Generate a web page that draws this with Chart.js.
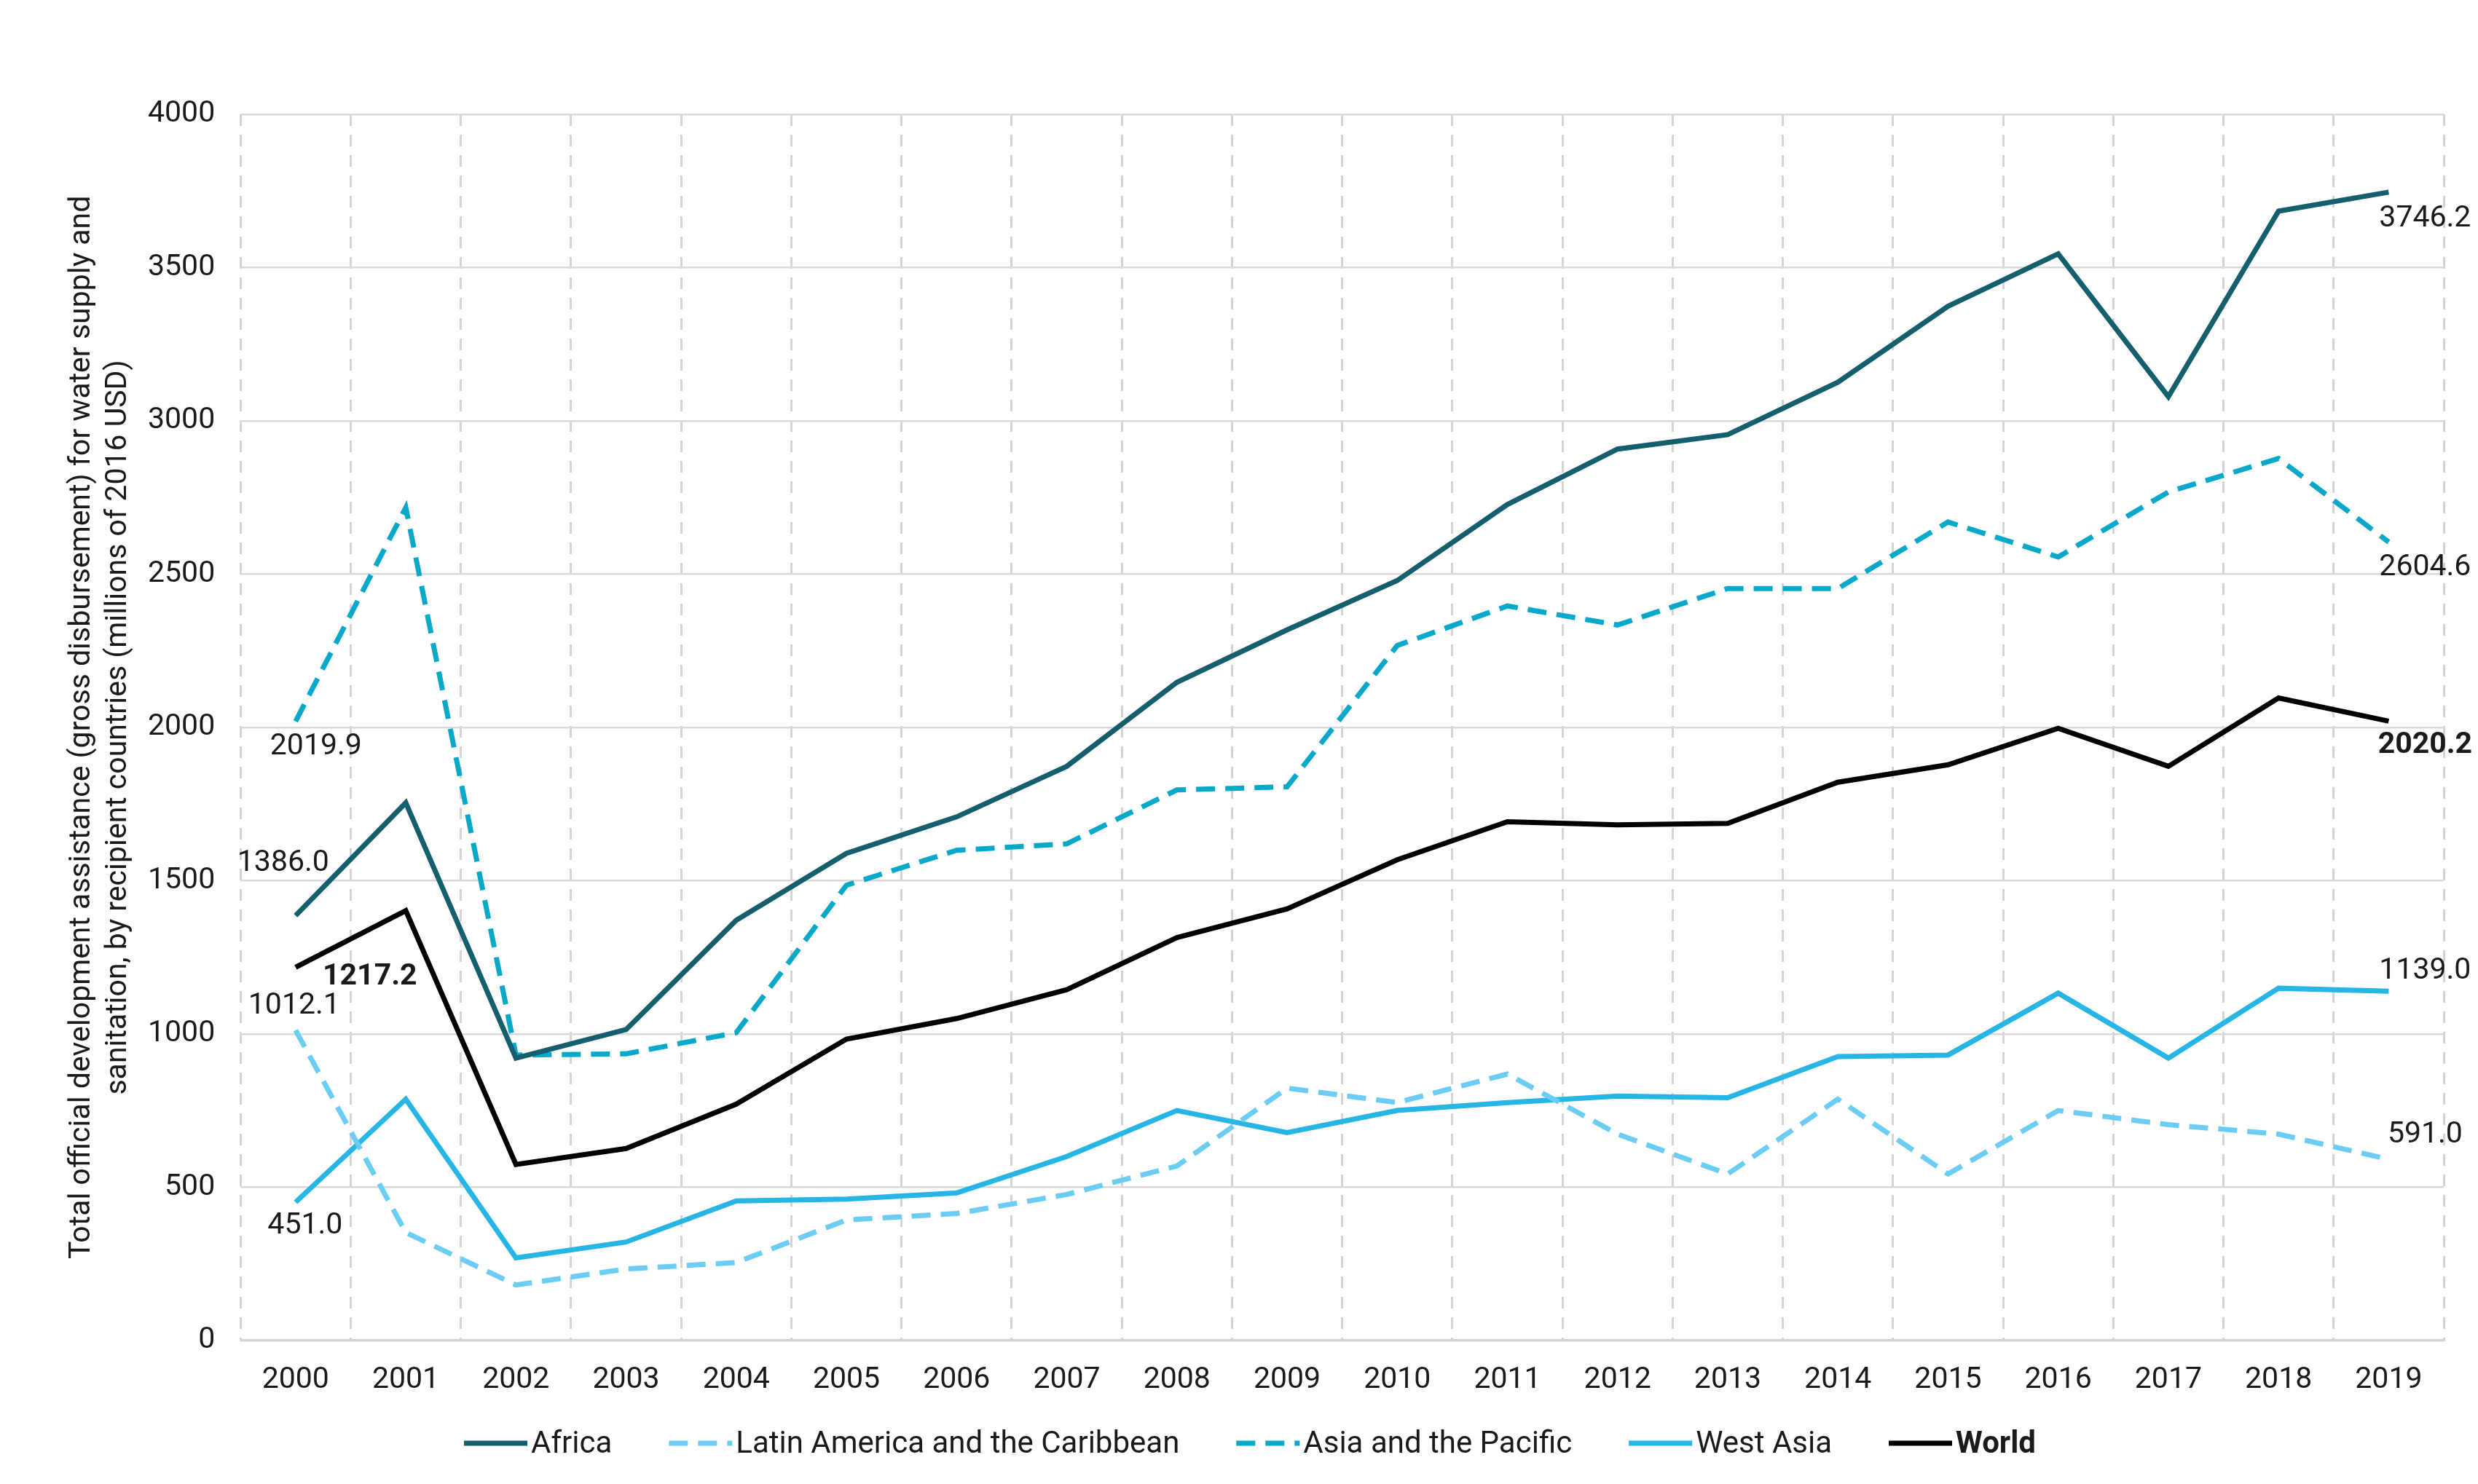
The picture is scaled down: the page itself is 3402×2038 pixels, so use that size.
<!DOCTYPE html>
<html>
<head>
<meta charset="utf-8">
<script src="https://cdn.jsdelivr.net/npm/chart.js@4.4.1/dist/chart.umd.min.js"></script>
<style>
  html, body { margin: 0; padding: 0; background: #fff; }
  #wrap { width: 3402px; height: 2038px; }
</style>
</head>
<body>
<div id="wrap"><canvas id="c"></canvas></div>
<script>
const years = ['2000', '2001', '2002', '2003', '2004', '2005', '2006', '2007', '2008', '2009',
  '2010', '2011', '2012', '2013', '2014', '2015', '2016', '2017', '2018', '2019'];

const africa = [1386.0, 1754, 921, 1014, 1371, 1589, 1708, 1873, 2147, 2318,
  2479, 2727, 2908, 2955, 3126, 3374, 3545, 3079, 3684, 3746.2];
const latinAmerica = [1012.1, 352, 181, 233, 254, 393, 414, 476, 569, 823,
  776, 869, 673, 543, 787, 543, 750, 704, 673, 591.0];
const asiaPacific = [2019.9, 2717, 931, 935, 1004, 1485, 1599, 1620, 1796, 1806,
  2267, 2396, 2334, 2453, 2453, 2670, 2556, 2768, 2877, 2604.6];
const westAsia = [451.0, 787, 269, 321, 455, 461, 481, 600, 750, 678,
  750, 776, 797, 792, 926, 931, 1133, 921, 1149, 1139.0];
const world = [1217.2, 1402, 574, 626, 771, 983, 1050, 1144, 1314, 1408,
  1568, 1692, 1682, 1687, 1821, 1878, 1997, 1873, 2096, 2020.2];

const yTicks = [0, 500, 1000, 1500, 2000, 2500, 3000, 3500, 4000];

// where the first/last value labels sit relative to their point (px)
const labelOffsets = {
  'Africa': { first: [-17, -72], last: [50, 37] },
  'Latin America and the Caribbean': { first: [-2, -33], last: [50, -33] },
  'Asia and the Pacific': { first: [28, 35], last: [50, 35] },
  'West Asia': { first: [13, 33], last: [50, -28] },
  'World': { first: [102, 13], last: [50, 33] }
};

const FONT = 'Roboto, "Noto Sans", sans-serif';

const endLabels = {
  id: 'endLabels',
  afterDatasetsDraw(chart) {
    const ctx = chart.ctx;
    ctx.save();
    ctx.textAlign = 'center';
    ctx.textBaseline = 'middle';
    chart.data.datasets.forEach((ds, i) => {
      const meta = chart.getDatasetMeta(i);
      const off = labelOffsets[ds.label];
      const bold = ds.label === 'World';
      ctx.font = (bold ? 'bold ' : '') + '41px ' + FONT;
      ctx.fillStyle = '#1a1a1a';
      [[0, off.first], [ds.data.length - 1, off.last]].forEach(([idx, o]) => {
        const pt = meta.data[idx];
        ctx.fillText(ds.data[idx].toFixed(1), pt.x + o[0], pt.y + o[1]);
      });
    });
    ctx.restore();
  }
};

const lineLegend = {
  id: 'lineLegend',
  afterDraw(chart) {
    const ctx = chart.ctx;
    const y = 1982;
    const sample = 87, gapText = 5, gapItem = 78;
    ctx.save();
    ctx.textBaseline = 'middle';
    ctx.textAlign = 'left';
    const items = chart.data.datasets.map(ds => {
      const font = (ds.label === 'World' ? 'bold ' : '') + '42px ' + FONT;
      ctx.font = font;
      return { ds, font, w: ctx.measureText(ds.label).width };
    });
    const total = items.reduce((s, it) => s + sample + gapText + it.w, 0) + gapItem * (items.length - 1);
    let x = chart.width / 2 + 15 - total / 2;
    items.forEach(it => {
      ctx.strokeStyle = it.ds.borderColor;
      ctx.lineWidth = it.ds.borderWidth;
      ctx.setLineDash(it.ds.borderDash || []);
      ctx.lineCap = 'butt';
      ctx.beginPath();
      ctx.moveTo(x, y);
      ctx.lineTo(x + sample, y);
      ctx.stroke();
      ctx.setLineDash([]);
      x += sample + gapText;
      ctx.font = it.font;
      ctx.fillStyle = '#1a1a1a';
      ctx.fillText(it.ds.label, x, y + 2);
      x += it.w + gapItem;
    });
    ctx.restore();
  }
};

new Chart(document.getElementById('c'), {
  type: 'line',
  data: {
    labels: years,
    datasets: [
      { label: 'Africa', data: africa, borderColor: '#145e6e', borderWidth: 7 },
      { label: 'Latin America and the Caribbean', data: latinAmerica, borderColor: '#6ccdf4', borderWidth: 7, borderDash: [26, 14] },
      { label: 'Asia and the Pacific', data: asiaPacific, borderColor: '#07a8c9', borderWidth: 7, borderDash: [26, 14] },
      { label: 'West Asia', data: westAsia, borderColor: '#27b5e6', borderWidth: 7 },
      { label: 'World', data: world, borderColor: '#000000', borderWidth: 7 }
    ]
  },
  options: {
    responsive: true,
    maintainAspectRatio: false,
    devicePixelRatio: 1,
    animation: false,
    radius: 0,
    layout: { padding: { left: 88, right: 47, top: 157, bottom: 88 } },
    plugins: {
      legend: { display: false },
      tooltip: { enabled: false }
    },
    scales: {
      x: {
        offset: true,
        grid: { offset: true, color: '#d4d4d4', lineWidth: 3, drawTicks: false },
        border: { display: true, color: '#d4d4d4', width: 3, dash: [16, 12] },
        ticks: { color: '#1a1a1a', font: { family: FONT, size: 41 }, padding: 30, maxRotation: 0 }
      },
      y: {
        min: 0,
        max: 4000,
        afterBuildTicks: axis => { axis.ticks = yTicks.map(v => ({ value: v })); },
        grid: { color: '#d9d9d9', lineWidth: 2.5, drawTicks: false },
        border: { display: false },
        ticks: { color: '#1a1a1a', font: { family: FONT, size: 41 }, padding: 35, callback: v => String(v) },
        title: {
          display: true,
          text: ['Total official development assistance (gross disbursement) for water supply and',
                 'sanitation, by recipient countries (millions of 2016 USD)'],
          color: '#1a1a1a',
          font: { family: FONT, size: 41, lineHeight: 1.22 },
          padding: { top: 0, bottom: -20 }
        }
      }
    }
  },
  plugins: [endLabels, lineLegend]
});
</script>
</body>
</html>
